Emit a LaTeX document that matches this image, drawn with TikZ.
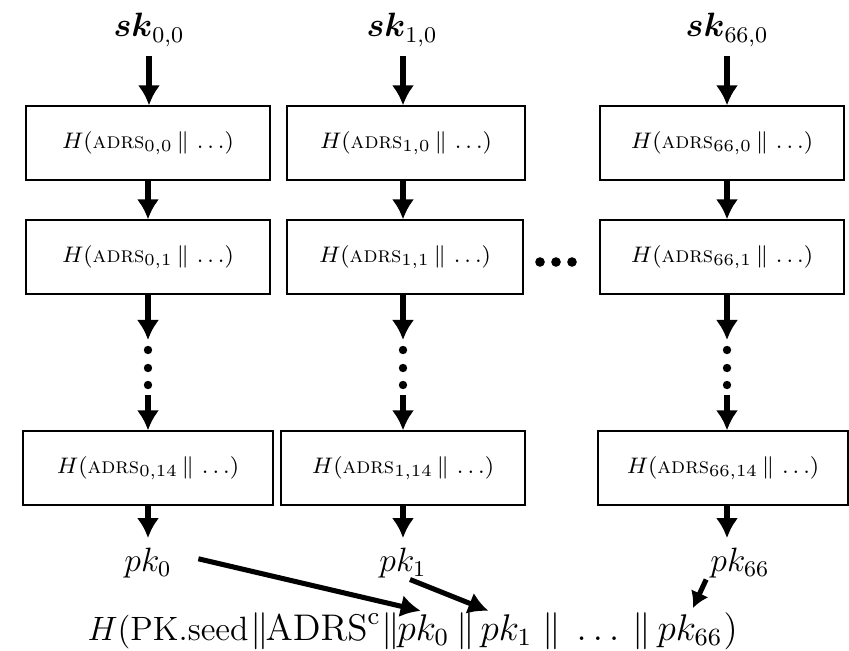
\documentclass[tikz,border=0pt]{standalone}
\usepackage{amsmath}
\usepackage{graphicx}
\usetikzlibrary{arrows.meta}

\tikzset{
  hbox/.style={draw, line width=0.6pt, minimum width=3.05cm, minimum height=0.92cm, inner sep=0pt},
  flow/.style={line width=1.8pt, -{Latex[length=2.5mm, width=2.8mm]}},
  key/.style={font=\large},
  part/.style={anchor=base west, inner xsep=0pt, inner ysep=1pt, font=\large}
}
\newcommand{\hadrs}[1]{\footnotesize $H(\textsc{adrs}_{#1}\,\|\,\ldots)$}
\newcommand{\fpart}[1]{\scalebox{1.1}{$#1$}}

\begin{document}
\begin{tikzpicture}[x=0.0125cm, y=-0.0125cm]
\useasboundingbox (0,0) rectangle (849,650);

% column 0
\node[key] (sk0) at (149,30) {$\boldsymbol{sk}_{0,0}$};
\node[hbox] (a0) at (148,143) {\hadrs{0,0}};
\node[hbox] (b0) at (148,257) {\hadrs{0,1}};
\node[hbox, minimum width=3.12cm] (c0) at (148,468) {\hadrs{0,14}};
\node[key] (pk0) at (148,563) {$pk_0$};

% column 1
\node[key] (sk1) at (402,30) {$\boldsymbol{sk}_{1,0}$};
\node[hbox, minimum width=2.98cm] (a1) at (406,143) {\hadrs{1,0}};
\node[hbox, minimum width=2.95cm] (b1) at (405,257) {\hadrs{1,1}};
\node[hbox] (c1) at (403,468) {\hadrs{1,14}};
\node[key] (pk1) at (403,563) {$pk_1$};

% column 66
\node[key] (sk66) at (727,30) {$\boldsymbol{sk}_{66,0}$};
\node[hbox] (a66) at (722,143) {\hadrs{66,0}};
\node[hbox] (b66) at (722,257) {\hadrs{66,1}};
\node[hbox, minimum width=3.12cm] (c66) at (723,468) {\hadrs{66,14}};
\node[key] (pk66) at (740,563) {$pk_{66}$};

% final hash
\node[part] (f1) at (87,640) {$H(\mathrm{PK.seed}$};
\node[part] (s1) at (250,640) {\fpart{\|}};
\node[part] (f2) at (265,640) {\fpart{\mathrm{ADRS}^{\mathrm{c}}}};
\node[part] (s2) at (381,640) {\fpart{\|}};
\node[part] (fpk0) at (397,640) {\fpart{pk_0}};
\node[part] (s3) at (456,640) {\fpart{\|}};
\node[part] (fpk1) at (480,640) {\fpart{pk_1}};
\node[part] (s4) at (542,640) {\fpart{\|}};
\node[part] (f3) at (576,640) {\fpart{\ldots}};
\node[part] (s5) at (632,640) {\fpart{\|}};
\node[part] (fpk66) at (657,640) {\fpart{pk_{66}}};
\node[part] (f4) at (fpk66.base east) {\fpart{)}};

\coordinate (d0) at (148,340);
\coordinate (e0) at (148,395);
\coordinate (d1) at (403,340);
\coordinate (e1) at (403,395);
\coordinate (d66) at (727,340);
\coordinate (e66) at (727,395);

\begin{scope}[flow]
\draw (sk0) -- (a0.north -| sk0);
\draw (a0) -- (b0);
\draw (b0) -- (d0);
\draw (e0) -- (c0);
\draw (c0) -- (pk0);
\draw (sk1.south -| d1) -- (a1.north -| d1);
\draw (a1.south -| d1) -- (b1.north -| d1);
\draw (b1.south -| d1) -- (d1);
\draw (e1) -- (c1);
\draw (c1) -- (pk1);
\draw (sk66) -- (a66.north -| sk66);
\draw (a66.south -| sk66) -- (b66.north -| sk66);
\draw (b66.south -| sk66) -- (d66);
\draw (e66) -- (c66.north -| e66);
\draw (c66.south -| e66) -- (pk66.north -| e66);
\draw ([shift={(6pt,1.5pt)}]pk0.east) -- ([xshift=-1pt]fpk0.north); %pk0-fpk0
\draw ([shift={(2.5pt,3pt)}]pk1.south) -- ([xshift=3pt]fpk1.north west); %pk1-fpk1
\draw[-{Latex[length=2mm, width=2.4mm]}] ([shift={(2pt,3pt)}]pk66.south west) -- ([shift={(1pt,1pt)}]fpk66.north); %pk66-fpk66
\end{scope}

\foreach \x in {148,403,727}
  \foreach \y in {350,368,385}
    \fill (\x,\y) circle (4.2);
\foreach \x in {540,556,572}
  \fill (\x,262) circle (4.8);

\end{tikzpicture}
\end{document}
